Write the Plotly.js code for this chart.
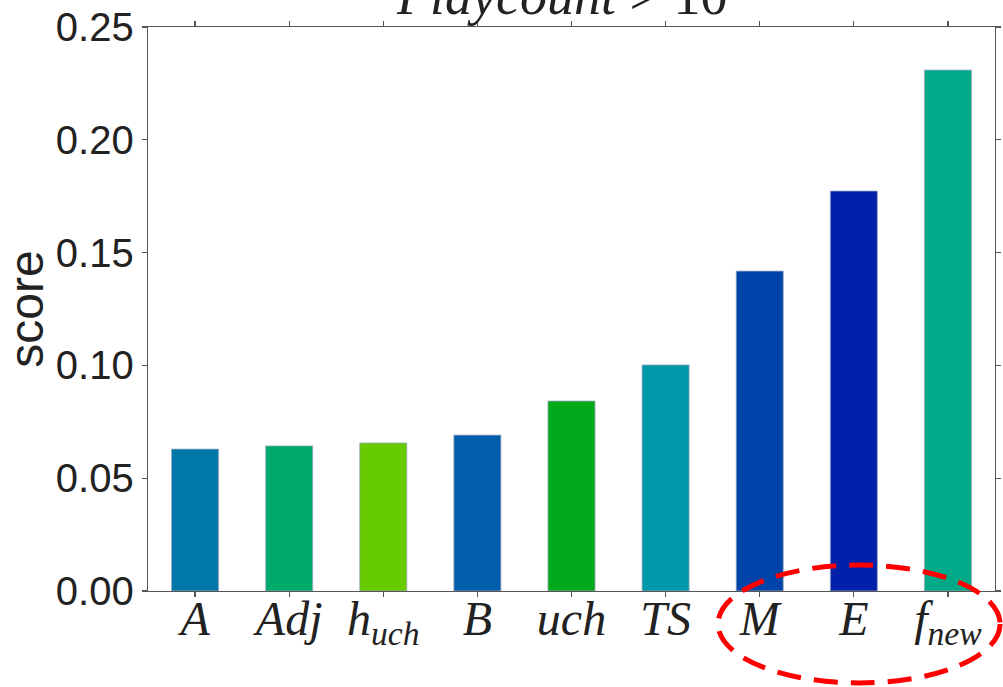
<!DOCTYPE html>
<html>
<head>
<meta charset="utf-8">
<script src="https://cdn.plot.ly/plotly-3.0.1.min.js"></script>
<style>html,body{margin:0;padding:0;background:#fff;}#chart{width:1003px;height:687px;}</style>
</head>
<body>
<div id="chart"></div>
<script>
const categories = ["A", "Adj", "h_uch", "B", "uch", "TS", "M", "E", "f_new"];
const tickLabels = ["<i>A</i>", "<i>Adj</i>", "<i>h<sub>uch</sub></i>", "<i>B</i>", "<i>uch</i>", "<i>TS</i>", "<i>M</i>", "<i>E</i>", "<i>f<sub>new</sub></i>"];
const scores = [0.0629, 0.0643, 0.0656, 0.0691, 0.0842, 0.1002, 0.1418, 0.1773, 0.2309];
const barColors = ["#0078AA", "#00AA6B", "#66CC00", "#005EAA", "#00AA1A", "#0099AA", "#0044AA", "#0022AA", "#00AA88"];
const yTicks = [0, 0.05, 0.10, 0.15, 0.20, 0.25];
const yTickLabels = ["0.00", "0.05", "0.10", "0.15", "0.20", "0.25"];
const titleText = "<i>Playcount</i> &gt; 10";

const trace = {
  type: "bar",
  x: categories.map((c, i) => i),
  y: scores,
  width: 0.5,
  marker: { color: barColors, line: { color: "#9aa9c0", width: 0.8 } },
  hoverinfo: "skip"
};

const axisLine = "#555555";
const layout = {
  width: 1003, height: 687,
  margin: { l: 148, r: 8, t: 27, b: 96, pad: 0 },
  paper_bgcolor: "#ffffff", plot_bgcolor: "#ffffff",
  showlegend: false,
  bargap: 0.5,
  xaxis: {
    range: [-0.5, 8.5],
    tickmode: "array",
    tickvals: categories.map((c, i) => i),
    ticktext: tickLabels,
    ticks: "outside", ticklen: 5, tickwidth: 1.2, tickcolor: axisLine,
    showline: true, linecolor: axisLine, linewidth: 1.3, mirror: "ticks",
    showgrid: false, zeroline: false,
    tickfont: { family: "Liberation Serif, DejaVu Serif, serif", size: 48, color: "#222222" },
    ticklabelstandoff: -20
  },
  yaxis: {
    range: [0, 0.25],
    tickmode: "array",
    tickvals: yTicks,
    ticktext: yTickLabels,
    ticks: "outside", ticklen: 5, tickwidth: 1.2, tickcolor: axisLine,
    showline: true, linecolor: axisLine, linewidth: 1.3, mirror: "ticks",
    showgrid: false, zeroline: false,
    tickfont: { family: "Liberation Sans, Arial, sans-serif", size: 40, color: "#222222" },
    title: { text: "score", font: { family: "Liberation Sans, Arial, sans-serif", size: 48, color: "#222222" }, standoff: 8 }
  },
  annotations: [{
    text: titleText,
    xref: "paper", yref: "paper", x: 0.488, y: 1, xanchor: "center", yanchor: "bottom",
    yshift: -1, showarrow: false,
    font: { family: "Liberation Serif, DejaVu Serif, serif", size: 54, color: "#222222" }
  }],
  shapes: [{
    type: "circle", xref: "paper", yref: "paper",
    x0: 0.673, x1: 1.006, y0: -0.163, y1: 0.046,
    line: { color: "#ff0000", width: 5, dash: "24px,13px" },
    fillcolor: "rgba(0,0,0,0)"
  }]
};

Plotly.newPlot("chart", [trace], layout, { displayModeBar: false, staticPlot: true });
</script>
</body>
</html>
